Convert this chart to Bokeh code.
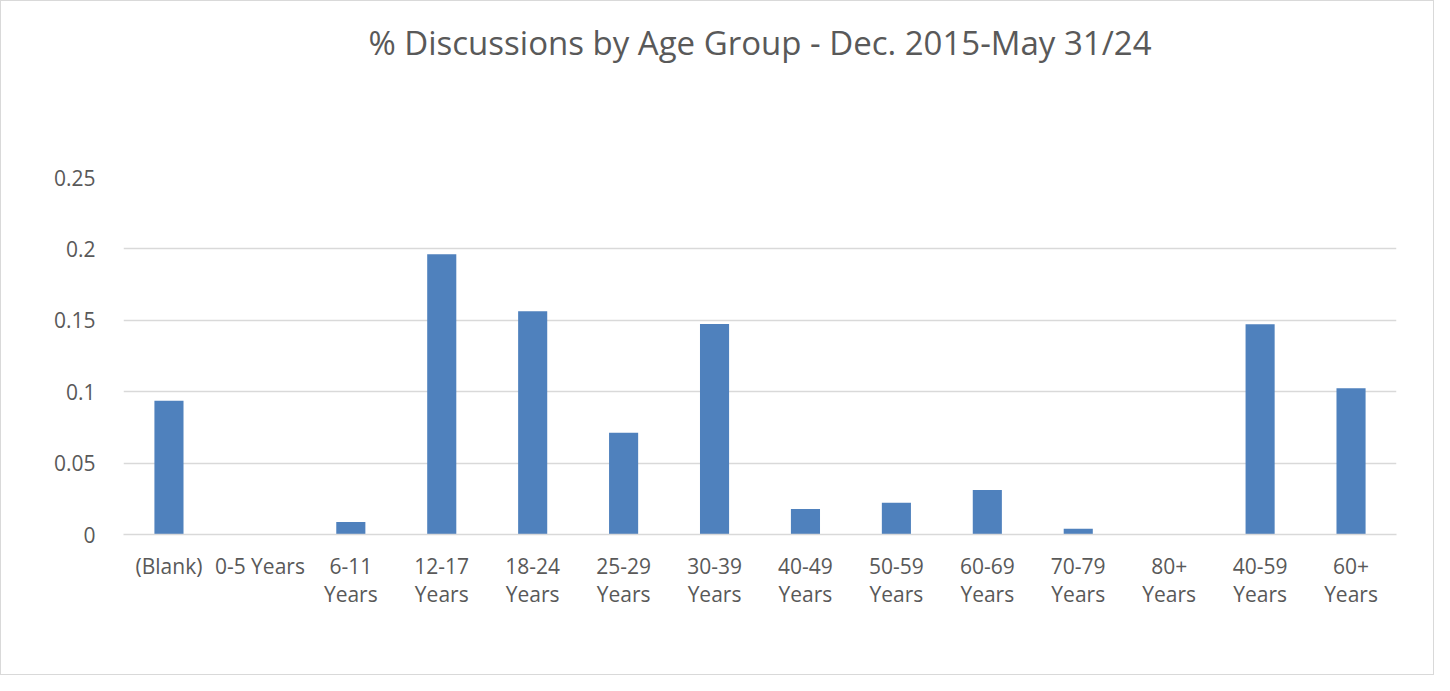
from bokeh.plotting import figure
from bokeh.models import Range1d, FactorRange, FixedTicker, NumeralTickFormatter, ColumnDataSource, Title
from bokeh.embed import file_html
from bokeh.resources import INLINE

categories = ["(Blank)", "0-5 Years", "6-11\nYears", "12-17\nYears", "18-24\nYears",
              "25-29\nYears", "30-39\nYears", "40-49\nYears", "50-59\nYears",
              "60-69\nYears", "70-79\nYears", "80+\nYears", "40-59\nYears", "60+\nYears"]
values = [0.0937, 0.0, 0.0087, 0.1963, 0.1563, 0.0712, 0.1474, 0.0178, 0.0222,
          0.0311, 0.0040, 0.0, 0.1472, 0.1025]
y_ticks = [0, 0.05, 0.1, 0.15, 0.2, 0.25]
title_text = "% Discussions by Age Group - Dec. 2015-May 31/24"

FONT = "Open Sans"
GRAY = "#595959"

p = figure(x_range=FactorRange(factors=categories, range_padding=0),
           y_range=Range1d(0, 0.25), title=None,
           width=1434, height=675, output_backend="svg", toolbar_location=None,
           min_border_left=122, min_border_right=39, min_border_top=176, min_border_bottom=142,
           styles={"border": "1.5px solid #d9d9d9", "box-sizing": "border-box"})

# spacer between title and plot area (closest to the frame)
spacer = Title(text=" ", text_font_size="1px", standoff=110)
p.add_layout(spacer, "above")
main_title = Title(text=title_text, align="center", text_font=FONT, text_font_size="33px",
                   text_font_style="normal", text_color=GRAY, standoff=0)
p.add_layout(main_title, "above")

src = ColumnDataSource(dict(x=categories, top=values))
p.vbar(x="x", top="top", width=0.32, source=src, fill_color="#4F81BD", line_color=None)

p.outline_line_color = None
p.xgrid.grid_line_color = None
p.ygrid.grid_line_color = "#d9d9d9"
p.ygrid.grid_line_width = 1.3

p.yaxis.ticker = FixedTicker(ticks=y_ticks)
p.yaxis.formatter = NumeralTickFormatter(format="0.[00]")
p.yaxis.axis_line_color = None
p.yaxis.major_tick_line_color = None
p.yaxis.minor_tick_line_color = None
p.yaxis.major_label_standoff = 22
p.yaxis.major_label_text_font = FONT
p.yaxis.major_label_text_font_size = "21px"
p.yaxis.major_label_text_color = GRAY

p.xaxis.axis_line_color = "#d9d9d9"
p.xaxis.axis_line_width = 1.3
p.xaxis.major_tick_line_color = None
p.xaxis.minor_tick_line_color = None
p.xaxis.major_label_standoff = 11
p.xaxis.major_label_text_font = FONT
p.xaxis.major_label_text_font_size = "21px"
p.xaxis.major_label_text_color = GRAY
p.xaxis.major_label_text_line_height = 1.0

open("out.html", "w").write(file_html(p, INLINE))
